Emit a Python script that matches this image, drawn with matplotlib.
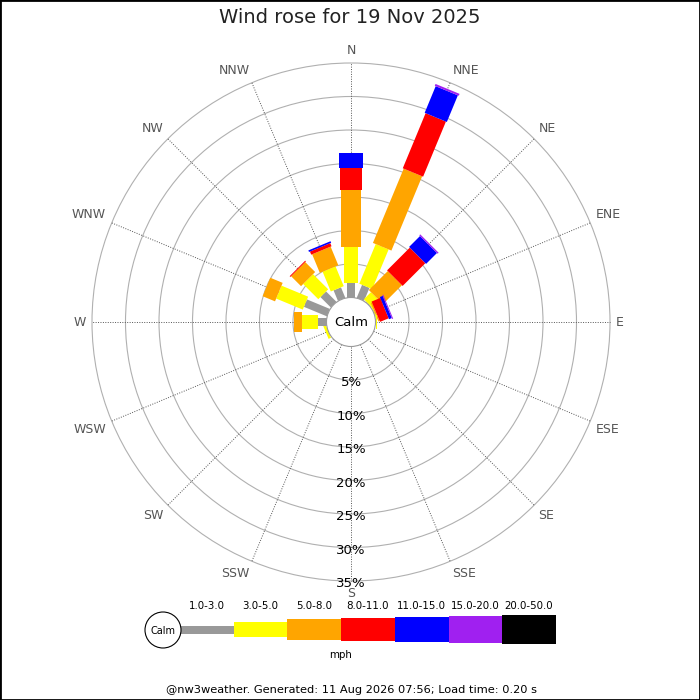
import numpy as np
import matplotlib
matplotlib.use('Agg')
import matplotlib.pyplot as plt
from matplotlib.patches import Polygon, Circle, Rectangle

# ---------------- data ----------------
directions = ['N', 'NNE', 'NE', 'ENE', 'E', 'ESE', 'SE', 'SSE',
              'S', 'SSW', 'SW', 'WSW', 'W', 'WNW', 'NW', 'NNW']
speed_bins = ['1.0-3.0', '3.0-5.0', '5.0-8.0', '8.0-11.0',
              '11.0-15.0', '15.0-20.0', '20.0-50.0']
speed_unit = 'mph'
pct_ticks = [5, 10, 15, 20, 25, 30, 35]

# percent frequency per speed class, per direction (N ... NNW)
spd_1_3   = [2.1, 2.1, 0.1, 0.0, 0.0, 0, 0, 0, 0, 0, 0, 0.0, 1.3, 3.7, 2.2, 1.7]
spd_3_5   = [5.4, 6.4, 1.5, 0.15, 0.2, 0, 0, 0, 0, 0, 0, 0.4, 2.3, 4.3, 3.2, 3.2]
spd_5_8   = [8.5, 12.0, 4.0, 0.2, 0.0, 0, 0, 0, 0, 0, 0, 0.0, 1.3, 2.0, 2.1, 3.0]
spd_8_11  = [3.4, 8.9, 4.8, 1.4, 0.0, 0, 0, 0, 0, 0, 0, 0.0, 0.0, 0.0, 0.15, 0.5]
spd_11_15 = [2.1, 4.3, 2.3, 0.45, 0.0, 0, 0, 0, 0, 0, 0, 0.0, 0.0, 0.0, 0.0, 0.25]
spd_15_20 = [0.0, 0.3, 0.2, 0.15, 0.0, 0, 0, 0, 0, 0, 0, 0.0, 0.0, 0.0, 0.0, 0.0]
spd_20_50 = [0.0, 0.0, 0.0, 0.0, 0.0, 0, 0, 0, 0, 0, 0, 0.0, 0.0, 0.0, 0.0, 0.0]
series = [spd_1_3, spd_3_5, spd_5_8, spd_8_11, spd_11_15, spd_15_20, spd_20_50]

title = 'Wind rose for 19 Nov 2025'
footer = '@nw3weather. Generated: 11 Aug 2026 07:56; Load time: 0.20 s'

# ---------------- style ----------------
colors = ['#999999', '#ffff00', '#ffa500', '#ff0000', '#0000ff', '#a020f0', '#000000']
bar_w_px = [8, 14, 20, 22, 24, 26, 28]
leg_h_px = [8, 15, 21, 23, 25, 27, 29]
PX = 6.7           # pixels per percent
OFF = 24.5 / PX    # calm circle radius in percent units
CX, CY = 351, 322  # centre of rose in pixels (from top-left)

fig = plt.figure(figsize=(7, 7), dpi=100)
fig.patch.set_facecolor('white')

# rose axes: data units = percent, 1 unit = PX pixels
rax = fig.add_axes([0, 0, 1, 1])
rax.set_xlim(-CX / PX, (700 - CX) / PX)
rax.set_ylim(-(700 - CY) / PX, CY / PX)
rax.axis('off')

# rings
for p in pct_ticks:
    rax.add_patch(Circle((0, 0), OFF + p, fill=False, ec='#b0b0b0', lw=0.8, zorder=1))

# spokes and direction labels
R_LAB = 265 / PX
for i, d in enumerate(directions):
    th = np.deg2rad(i * 22.5)
    ux, uy = np.sin(th), np.cos(th)
    rax.plot([ux * OFF, ux * (OFF + pct_ticks[-1])], [uy * OFF, uy * (OFF + pct_ticks[-1])],
             ls=(0, (1, 1.5)), color='#555555', lw=0.7, zorder=2)
    ha = 'left' if ux > 0.1 else ('right' if ux < -0.1 else 'center')
    va = 'bottom' if uy > 0.1 else ('top' if uy < -0.1 else 'center')
    rax.text(ux * R_LAB, uy * R_LAB, d, ha=ha, va=va, fontsize=9, color='#555555', zorder=4)

# bars
for i in range(len(directions)):
    th = np.deg2rad(i * 22.5)
    ux, uy = np.sin(th), np.cos(th)
    qx, qy = uy, -ux
    r0 = OFF
    for k in range(len(series)):
        v = series[k][i]
        if v <= 0:
            continue
        r1 = r0 + v
        hw = bar_w_px[k] / 2 / PX
        pts = [(ux * r0 + qx * hw, uy * r0 + qy * hw),
               (ux * r1 + qx * hw, uy * r1 + qy * hw),
               (ux * r1 - qx * hw, uy * r1 - qy * hw),
               (ux * r0 - qx * hw, uy * r0 - qy * hw)]
        rax.add_patch(Polygon(pts, closed=True, facecolor=colors[k], edgecolor='none', zorder=3))
        r0 = r1

# calm circle
rax.add_patch(Circle((0, 0), OFF, facecolor='white', ec='#999999', lw=0.8, zorder=5))
rax.text(0, 0, 'Calm', ha='center', va='center', fontsize=9.5, color='black', zorder=6)

# percent labels
for p in pct_ticks:
    rax.text(0, -(OFF + p) - 0.4, f'{p}%', ha='center', va='center', fontsize=9.5,
             color='black', zorder=6)

# ---------------- legend / texts (pixel axes) ----------------
lax = fig.add_axes([0, 0, 1, 1])
lax.set_xlim(0, 700)
lax.set_ylim(700, 0)
lax.axis('off')
lax.patch.set_alpha(0)

lax.add_patch(Circle((163, 630), 18, facecolor='white', ec='black', lw=0.8, zorder=3))
lax.text(163, 630.5, 'Calm', ha='center', va='center', fontsize=7, zorder=4)
x0, bw, yc = 180, 53.7, 629.5
for k, lab in enumerate(speed_bins):
    h = leg_h_px[k]
    lax.add_patch(Rectangle((x0 + k * bw, yc - h / 2), bw, h, facecolor=colors[k],
                            edgecolor='none', zorder=2))
    lax.text(x0 + k * bw + bw / 2, 606, lab, ha='center', va='center', fontsize=7.4, zorder=4)
lax.text(341, 655, speed_unit, ha='center', va='center', fontsize=7.4)
lax.text(351, 690, footer, ha='center', va='center', fontsize=8.2)

fig.text(0.5, 1 - 17.5 / 700, title, ha='center', va='center', fontsize=14, color='#222222')

fig.patches.append(Rectangle((0, 0), 1, 1, transform=fig.transFigure, fill=False,
                             edgecolor='black', lw=2))

fig.savefig('out.png', dpi=100)
